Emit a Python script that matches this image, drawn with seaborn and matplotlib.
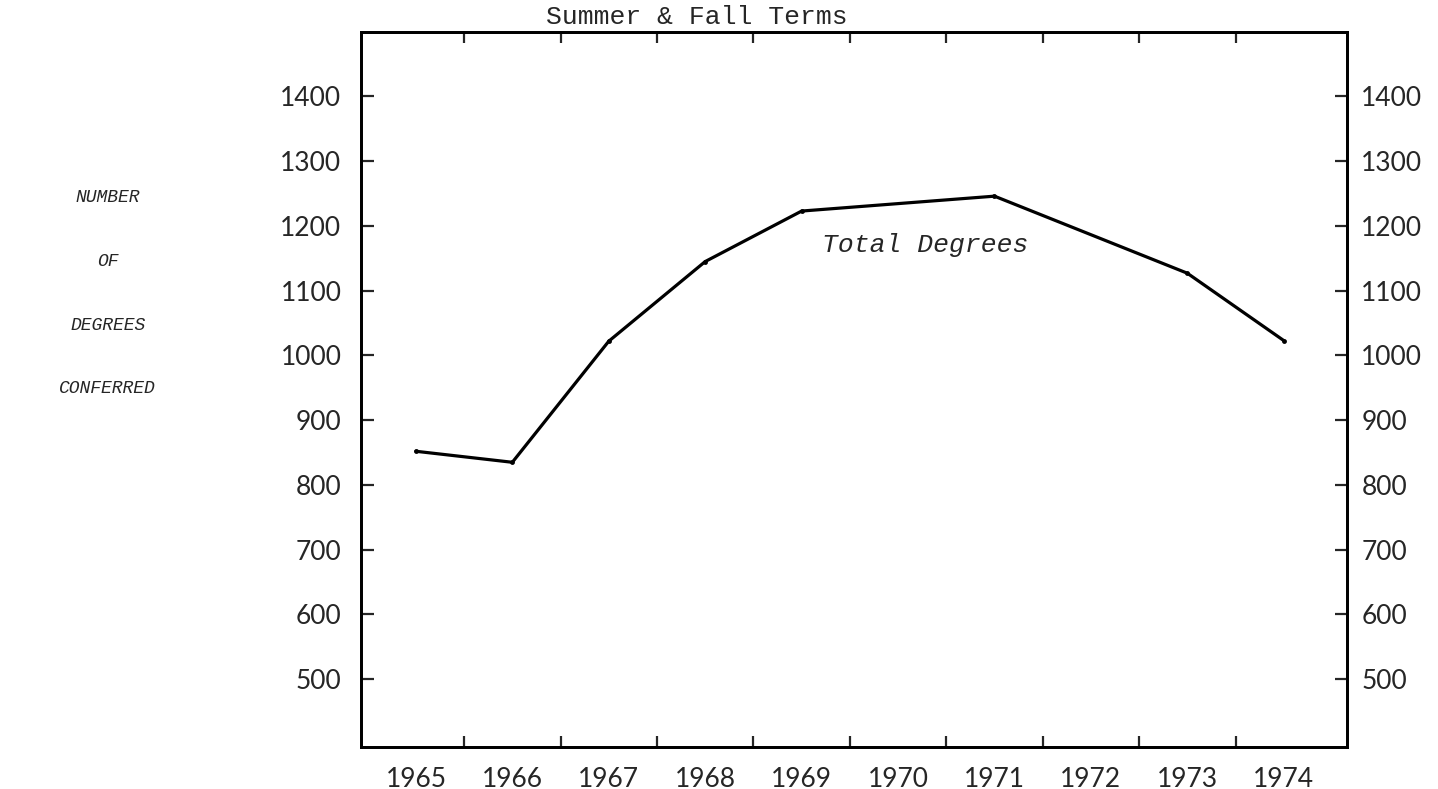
import matplotlib
matplotlib.use("Agg")
import matplotlib.pyplot as plt
import seaborn as sns

# values (summer & fall terms)
years = [1965, 1966, 1967, 1968, 1969, 1971, 1973, 1974]
degrees = [852, 835, 1022, 1145, 1223, 1246, 1127, 1023]

year_labels = [1965, 1966, 1967, 1968, 1969, 1970, 1971, 1972, 1973, 1974]
y_ticks = [500, 600, 700, 800, 900, 1000, 1100, 1200, 1300, 1400]
ylabel_lines = ["NUMBER", "OF", "DEGREES", "CONFERRED"]

sns.set_style("white")
plt.rcParams['font.family'] = ['Lato', 'DejaVu Sans']

fig = plt.figure(figsize=(14.38, 7.89), dpi=100)
ax = fig.add_axes([0.251, 0.053, 0.686, 0.906])

sns.lineplot(x=years, y=degrees, ax=ax, color='black', linewidth=2.3,
             marker='o', markersize=3.5, markeredgewidth=0)

ax.set_xlim(1964.43, 1974.66)
ax.set_ylim(395, 1499)

# year labels sit between the tick marks
ax.set_xticks(year_labels)
ax.set_xticklabels([str(y) for y in year_labels])
ax.set_xticks([y + 0.5 for y in year_labels[:-1]], minor=True)
ax.tick_params(axis='x', which='major', length=0, pad=14, labelsize=19)
ax.tick_params(axis='x', which='minor', direction='in', length=8, width=1.6,
               top=True, bottom=True)

ax.set_yticks(y_ticks)
ax.tick_params(axis='y', which='major', direction='in', length=9, width=1.6,
               left=True, right=False, labelsize=19, pad=14)

ax2 = ax.twinx()
ax2.set_ylim(ax.get_ylim())
ax2.set_yticks(y_ticks)
ax2.tick_params(axis='y', direction='in', length=9, width=1.6,
                labelsize=19, pad=10)

for a in (ax, ax2):
    for s in a.spines.values():
        s.set_color('black')
        s.set_linewidth(2)

ax.set_xlabel('')
ax.set_ylabel('')

ax.text(0.34, 1.005, "Summer & Fall Terms", transform=ax.transAxes,
        ha='center', va='bottom', fontsize=19, family='Liberation Mono')

ax.text(1970.28, 1170, "Total Degrees", ha='center', va='center',
        fontsize=19, family='Liberation Mono', style='italic')

for i, line in enumerate(ylabel_lines):
    fig.text(0.075, 1 - (197 + i * 64) / 789, line, ha='center', va='center',
             fontsize=13, family='Liberation Mono', style='italic')

fig.savefig("out.png", dpi=100)
